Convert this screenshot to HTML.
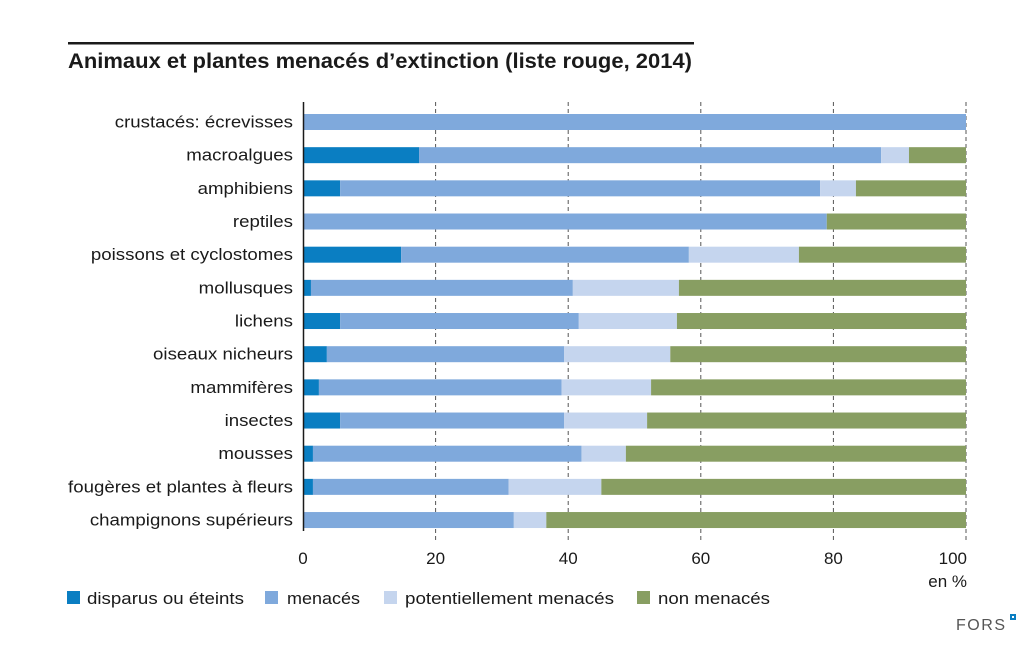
<!DOCTYPE html>
<html><head><meta charset="utf-8"><style>
html,body{margin:0;padding:0;background:#fff;}
svg{display:block;font-family:"Liberation Sans",sans-serif;}
</style></head><body>
<svg width="1035" height="651" viewBox="0 0 1035 651">
<rect x="68" y="42" width="626" height="2.5" fill="#1a1a1a"/>
<text x="68" y="68" font-size="21" font-weight="bold" fill="#1a1a1a" textLength="624" lengthAdjust="spacingAndGlyphs">Animaux et plantes menacés d’extinction (liste rouge, 2014)</text>
<g stroke="#555" stroke-width="1" stroke-dasharray="4,3">
<line x1="435.6" y1="102" x2="435.6" y2="540"/>
<line x1="568.2" y1="102" x2="568.2" y2="540"/>
<line x1="700.8" y1="102" x2="700.8" y2="540"/>
<line x1="833.4" y1="102" x2="833.4" y2="540"/>
<line x1="966" y1="102" x2="966" y2="540"/>
</g>
<g id="bars"></g>
<line x1="303.5" y1="102" x2="303.5" y2="531" stroke="#1a1a1a" stroke-width="1.5"/>
<g font-size="16.5" fill="#1a1a1a" text-anchor="end" id="labels"></g>
<g font-size="17" fill="#1a1a1a" text-anchor="middle" class="st">
<text x="303" y="564">0</text><text x="435.6" y="564">20</text><text x="568.2" y="564">40</text><text x="700.8" y="564">60</text><text x="833.4" y="564">80</text><text x="967" y="564" text-anchor="end">100</text>
<text x="967" y="587" text-anchor="end">en %</text>
</g>
<g font-size="16.5" fill="#1a1a1a">
<rect x="67" y="591" width="13" height="13" fill="#0a7ec2"/><text x="87" y="604" textLength="157" lengthAdjust="spacingAndGlyphs">disparus ou éteints</text>
<rect x="265" y="591" width="13" height="13" fill="#7fa9dc"/><text x="287" y="604" textLength="73" lengthAdjust="spacingAndGlyphs">menacés</text>
<rect x="384" y="591" width="13" height="13" fill="#c5d5ee"/><text x="405" y="604" textLength="209" lengthAdjust="spacingAndGlyphs">potentiellement menacés</text>
<rect x="637" y="591" width="13" height="13" fill="#889e62"/><text x="658" y="604" textLength="112" lengthAdjust="spacingAndGlyphs">non menacés</text>
</g>
<text x="956" y="630" font-size="16" fill="#555" textLength="49" lengthAdjust="spacing">FORS</text>
<rect x="1010" y="614" width="6" height="6" fill="#0a7ec2"/><rect x="1012" y="616" width="2" height="2" fill="#fff"/>
<script>
var d=[["crustacés: écrevisses",0,100,100],["macroalgues",17.5,87.2,91.4],["amphibiens",5.6,78,83.4],["reptiles",0,79,79],["poissons et cyclostomes",14.8,58.2,74.8],["mollusques",1.2,40.7,56.7],["lichens",5.6,41.6,56.4],["oiseaux nicheurs",3.6,39.4,55.4],["mammifères",2.4,39,52.5],["insectes",5.6,39.4,51.9],["mousses",1.5,42,48.7],["fougères et plantes à fleurs",1.5,31,45],["champignons supérieurs",0,31.8,36.7]];
var ns="http://www.w3.org/2000/svg",B=document.getElementById("bars"),L=document.getElementById("labels");
var cols=["#0a7ec2","#7fa9dc","#c5d5ee","#889e62"];
function X(v){return 303+v*6.63;}
d.forEach(function(r,i){var cy=122+i*33.17;var st=[0,r[1],r[2],r[3],100];
for(var k=0;k<4;k++){if(st[k+1]>st[k]){var e=document.createElementNS(ns,"rect");e.setAttribute("x",X(st[k]));e.setAttribute("width",X(st[k+1])-X(st[k]));e.setAttribute("y",cy-8);e.setAttribute("height",16);e.setAttribute("fill",cols[k]);B.appendChild(e);}}
var t=document.createElementNS(ns,"text");t.setAttribute("x",293);t.setAttribute("y",cy+5.5);t.textContent=r[0];L.appendChild(t);
var w=t.getComputedTextLength();t.setAttribute("textLength",w*1.13);t.setAttribute("lengthAdjust","spacingAndGlyphs");});
</script>
</svg>
</body></html>
